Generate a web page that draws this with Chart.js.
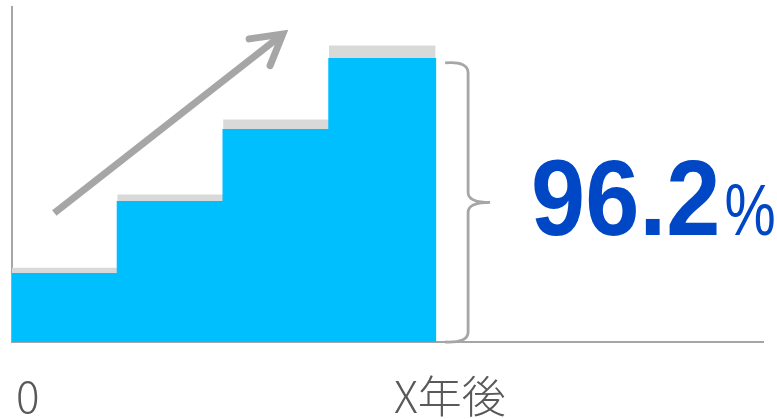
<!DOCTYPE html>
<html>
<head>
<meta charset="utf-8">
<script src="https://cdn.jsdelivr.net/npm/chart.js@4/dist/chart.umd.min.js"></script>
<style>
html,body{margin:0;padding:0;background:#fff}
#wrap{width:777px;height:419px}
</style>
</head>
<body>
<div id="wrap"><canvas id="stairs"></canvas></div>
<script>
// step positions on x (bar centres) and heights
const steps = [0.5, 1.5, 2.5, 3.5];
const rateValues = [20.6, 42.1, 63.6, 84.8];   // blue part
const capValues = [1.5, 1.8, 2.7, 3.6];        // grey top
const tickValues = [0.15, 4.14];
const tickLabels = ['0', 'X年後'];
const bigValue = '96.2';
const bigUnit = '%';

const grey = '#A6A6A6';

// arrow, brace and the big number
const decor = {
  id: 'decor',
  afterDraw(chart) {
    const ctx = chart.ctx;
    const xs = chart.scales.x, ys = chart.scales.y;

    // arrow
    const x0 = xs.getPixelForValue(0.40), y0 = ys.getPixelForValue(38.5);
    const x1 = xs.getPixelForValue(2.56), y1 = ys.getPixelForValue(91.9);
    const ang = Math.atan2(y0 - y1, x0 - x1);
    const hl = 34, ha = Math.PI / 6;
    ctx.save();
    ctx.strokeStyle = grey;
    ctx.lineWidth = 7;
    ctx.lineCap = 'butt';
    ctx.beginPath();
    ctx.moveTo(x0, y0);
    ctx.lineTo(x1 + Math.cos(ang) * 3, y1 + Math.sin(ang) * 3);
    ctx.stroke();
    ctx.lineCap = 'round';
    ctx.lineJoin = 'miter';
    ctx.beginPath();
    ctx.moveTo(x1 + Math.cos(ang + ha) * hl, y1 + Math.sin(ang + ha) * hl);
    ctx.lineTo(x1, y1);
    ctx.lineTo(x1 + Math.cos(ang - ha) * hl, y1 + Math.sin(ang - ha) * hl);
    ctx.stroke();
    ctx.restore();

    // brace next to the last step
    const bl = xs.getPixelForValue(steps[3] + 0.5) + 10;
    const bv = bl + 23, bt = bl + 45;
    const top = ys.getPixelForValue(rateValues[3]) + 5;
    const bot = ys.getPixelForValue(0);
    const mid = top + (bot - top) / 2;
    const r = 10;
    ctx.save();
    ctx.strokeStyle = grey;
    ctx.lineWidth = 2.8;
    ctx.beginPath();
    ctx.moveTo(bl, top);
    ctx.quadraticCurveTo(bv, top - 2, bv, top + r);
    ctx.lineTo(bv, mid - r);
    ctx.quadraticCurveTo(bv, mid, bt, mid);
    ctx.moveTo(bt, mid);
    ctx.quadraticCurveTo(bv, mid, bv, mid + r);
    ctx.lineTo(bv, bot - r);
    ctx.quadraticCurveTo(bv, bot + 1, bl, bot);
    ctx.stroke();
    ctx.restore();

    // 96.2%
    ctx.save();
    ctx.fillStyle = '#0047C6';
    ctx.textBaseline = 'alphabetic';
    ctx.textAlign = 'left';
    ctx.font = 'bold 107px "Liberation Sans", Arial, sans-serif';
    const w = ctx.measureText(bigValue).width * 0.91;
    ctx.translate(531, 235);
    ctx.save();
    ctx.scale(0.91, 1);
    ctx.fillText(bigValue, 0, 0);
    ctx.restore();
    ctx.font = '72px "Liberation Sans", Arial, sans-serif';
    ctx.scale(0.8, 1);
    ctx.fillText(bigUnit, (w + 4) / 0.8, 0);
    ctx.restore();
  }
};

new Chart(document.getElementById('stairs'), {
  type: 'bar',
  data: {
    datasets: [{
      data: steps.map((s, i) => ({x: s, y: rateValues[i]})),
      backgroundColor: '#00BFFF',
      borderWidth: 0,
      categoryPercentage: 1,
      barPercentage: 1.02
    }, {
      data: steps.map((s, i) => ({x: s, y: capValues[i]})),
      backgroundColor: '#D9D9D9',
      borderWidth: 0,
      categoryPercentage: 1,
      barPercentage: 1
    }]
  },
  options: {
    responsive: true,
    maintainAspectRatio: false,
    animation: false,
    layout: {padding: {left: 12, right: 14, top: 7, bottom: 0}},
    plugins: {legend: {display: false}, tooltip: {enabled: false}},
    scales: {
      x: {
        type: 'linear',
        stacked: true,
        offset: false,
        min: 0,
        max: 7.1,
        grid: {display: false, drawTicks: false, offset: false},
        border: {color: grey, width: 2},
        afterBuildTicks: sc => { sc.ticks = tickValues.map(v => ({value: v})); },
        afterFit: sc => {
          sc.paddingLeft = 0; sc.paddingRight = 0;
          sc.paddingTop = 0; sc.paddingBottom = 0;
          sc.height = 77;
        },
        ticks: {
          autoSkip: false,
          maxRotation: 0,
          padding: 31,
          color: '#595959',
          font: {family: '"Noto Sans CJK JP", sans-serif', size: 44, weight: 300, lineHeight: 1.05},
          callback: (v, i) => tickLabels[i]
        }
      },
      y: {
        stacked: true,
        min: 0,
        max: 100,
        grid: {display: false, drawTicks: false},
        border: {color: grey, width: 2},
        ticks: {display: false}
      }
    }
  },
  plugins: [decor]
});
</script>
</body>
</html>
